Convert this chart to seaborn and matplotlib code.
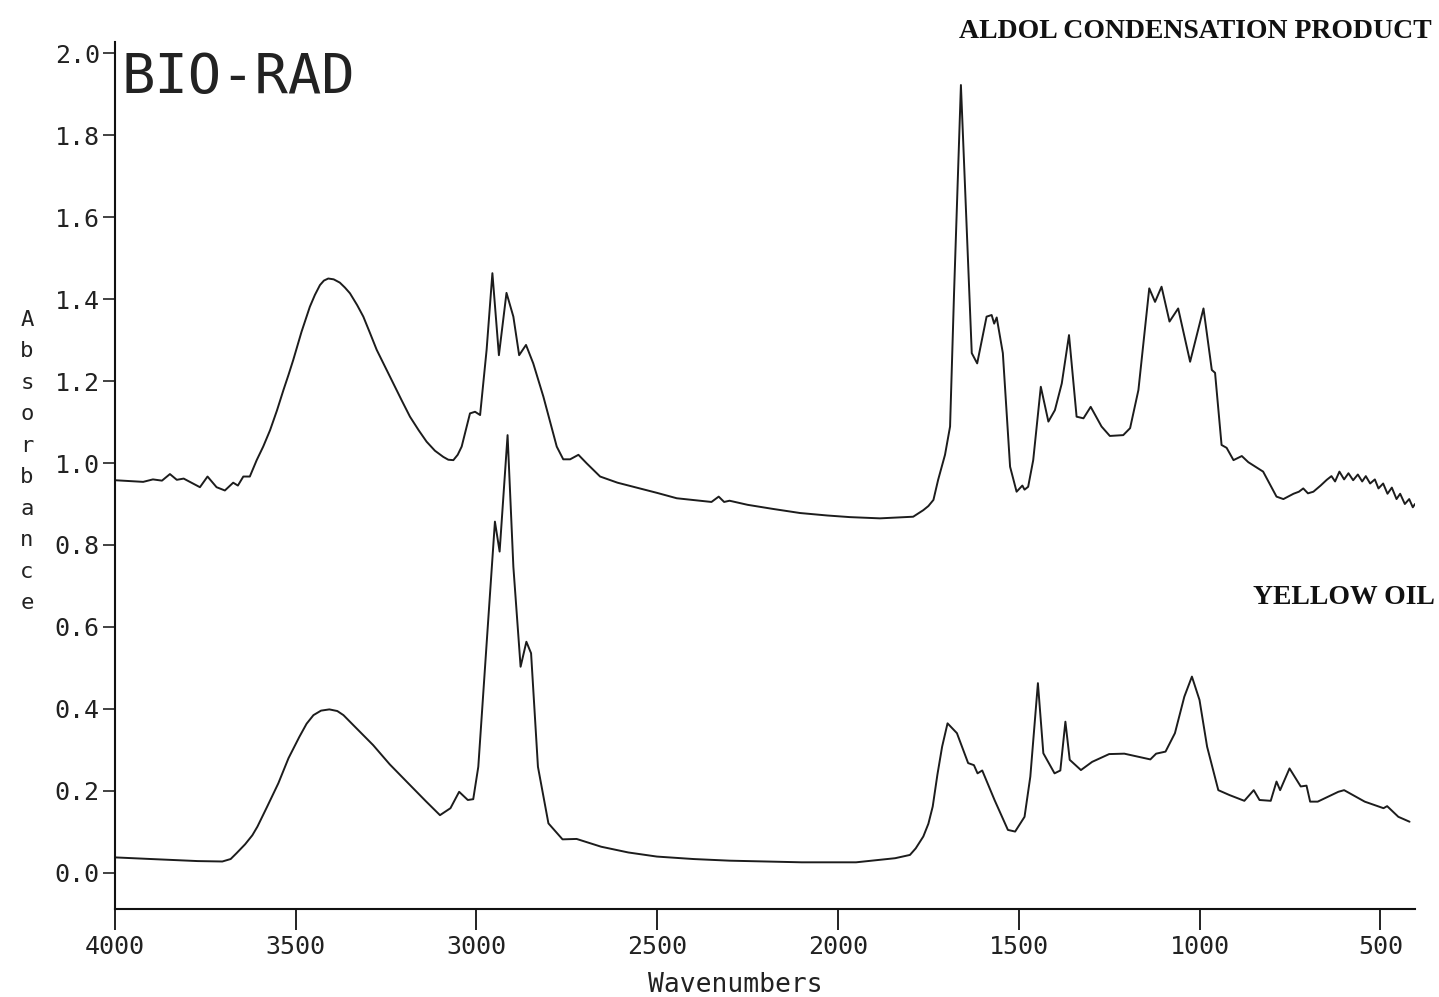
import matplotlib
matplotlib.use("Agg")
import matplotlib.pyplot as plt
import seaborn as sns
import pandas as pd

# FT-IR absorbance spectra
aldol_wavenumber = [
    4000, 3960, 3922, 3895, 3870, 3848, 3829, 3810, 3793, 3765, 3744, 3719,
    3696, 3673, 3660, 3645, 3627, 3608, 3590, 3571, 3552, 3534, 3520, 3507,
    3484, 3461, 3447, 3433, 3422, 3410, 3395, 3378, 3364, 3350, 3330, 3313,
    3295, 3276, 3253, 3230, 3207, 3184, 3160, 3138, 3115, 3092, 3078, 3064,
    3052, 3041, 3018, 3004, 2990, 2972, 2956, 2938, 2917, 2898, 2882, 2863,
    2843, 2815, 2778, 2760, 2741, 2718, 2695, 2658, 2610, 2566, 2500, 2446,
    2350, 2330, 2315, 2300, 2250, 2180, 2105, 2030, 1967, 1884, 1792, 1764,
    1750, 1736, 1723, 1704, 1690, 1679, 1660, 1644, 1630, 1615, 1589, 1575,
    1568, 1561, 1544, 1524, 1506, 1490, 1484, 1474, 1460, 1439, 1418, 1400,
    1381, 1361, 1340, 1321, 1301, 1271, 1248, 1211, 1192, 1169, 1139, 1123,
    1105, 1083, 1059, 1026, 989, 966, 957, 939, 925, 906, 883, 865,
    824, 787, 768, 740, 725, 713, 700, 685, 665, 648, 635, 625,
    613, 600, 588, 575, 562, 550, 540, 528, 515, 505, 492, 480,
    468, 455, 445, 432, 420, 410, 404,
]
aldol_absorbance = [
    0.958, 0.956, 0.954, 0.960, 0.957, 0.973, 0.959, 0.962, 0.954, 0.941, 0.967, 0.941,
    0.933, 0.952, 0.945, 0.967, 0.967, 1.007, 1.040, 1.080, 1.128, 1.178, 1.215, 1.251,
    1.320, 1.381, 1.410, 1.434, 1.445, 1.450, 1.448, 1.440, 1.428, 1.414, 1.385, 1.357,
    1.318, 1.276, 1.235, 1.194, 1.153, 1.113, 1.080, 1.052, 1.030, 1.015, 1.008, 1.007,
    1.020, 1.040, 1.121, 1.125, 1.117, 1.276, 1.463, 1.263, 1.415, 1.357, 1.263, 1.288,
    1.243, 1.162, 1.040, 1.009, 1.009, 1.020, 0.999, 0.967, 0.952, 0.942, 0.927, 0.914,
    0.905, 0.918, 0.905, 0.908, 0.898, 0.888, 0.878, 0.872, 0.868, 0.865, 0.869, 0.885,
    0.895, 0.910, 0.959, 1.020, 1.089, 1.414, 1.922, 1.576, 1.268, 1.243, 1.357, 1.361,
    1.340, 1.355, 1.268, 0.991, 0.930, 0.945, 0.935, 0.942, 1.007, 1.186, 1.101, 1.129,
    1.194, 1.312, 1.113, 1.109, 1.137, 1.089, 1.066, 1.068, 1.085, 1.178, 1.426, 1.393,
    1.430, 1.345, 1.377, 1.247, 1.377, 1.227, 1.220, 1.044, 1.037, 1.007, 1.017, 1.002,
    0.979, 0.918, 0.912, 0.925, 0.930, 0.938, 0.926, 0.930, 0.945, 0.959, 0.968, 0.955,
    0.979, 0.960, 0.975, 0.958, 0.972, 0.955, 0.968, 0.950, 0.960, 0.938, 0.950, 0.925,
    0.940, 0.912, 0.925, 0.900, 0.912, 0.892, 0.900,
]

oil_wavenumber = [
    4000, 3900, 3771, 3703, 3680, 3664, 3640, 3620, 3606, 3580, 3548, 3520,
    3490, 3470, 3451, 3430, 3407, 3385, 3368, 3340, 3286, 3240, 3189, 3140,
    3101, 3072, 3048, 3024, 3009, 2995, 2970, 2949, 2936, 2914, 2898, 2878,
    2862, 2849, 2830, 2801, 2762, 2723, 2655, 2580, 2501, 2400, 2300, 2100,
    1950, 1842, 1801, 1785, 1764, 1750, 1738, 1725, 1712, 1697, 1671, 1640,
    1624, 1614, 1601, 1567, 1530, 1510, 1484, 1468, 1447, 1432, 1401, 1385,
    1371, 1359, 1328, 1297, 1250, 1208, 1136, 1120, 1094, 1068, 1042, 1021,
    1000, 979, 948, 917, 876, 850, 834, 803, 787, 777, 751, 720,
    704, 694, 673, 616, 600, 543, 491, 481, 450, 419,
]
oil_absorbance = [
    0.038, 0.034, 0.029, 0.028, 0.034, 0.048, 0.070, 0.092, 0.113, 0.160, 0.219, 0.280,
    0.332, 0.364, 0.385, 0.396, 0.399, 0.395, 0.385, 0.360, 0.312, 0.265, 0.219, 0.175,
    0.141, 0.158, 0.198, 0.178, 0.180, 0.259, 0.585, 0.857, 0.784, 1.068, 0.747, 0.503,
    0.564, 0.536, 0.259, 0.121, 0.082, 0.083, 0.064, 0.050, 0.040, 0.034, 0.030, 0.026,
    0.026, 0.036, 0.044, 0.060, 0.089, 0.120, 0.162, 0.240, 0.308, 0.365, 0.341, 0.268,
    0.263, 0.243, 0.250, 0.178, 0.105, 0.101, 0.137, 0.235, 0.463, 0.292, 0.243, 0.250,
    0.369, 0.276, 0.251, 0.271, 0.290, 0.291, 0.277, 0.291, 0.296, 0.341, 0.430, 0.479,
    0.422, 0.308, 0.202, 0.190, 0.176, 0.202, 0.178, 0.176, 0.223, 0.202, 0.255, 0.211,
    0.213, 0.174, 0.174, 0.198, 0.202, 0.174, 0.158, 0.163, 0.137, 0.125,
]

x_ticks = [4000, 3500, 3000, 2500, 2000, 1500, 1000, 500]
y_ticks = [0.0, 0.2, 0.4, 0.6, 0.8, 1.0, 1.2, 1.4, 1.6, 1.8, 2.0]

aldol_df = pd.DataFrame({"wavenumber": aldol_wavenumber, "absorbance": aldol_absorbance})
oil_df = pd.DataFrame({"wavenumber": oil_wavenumber, "absorbance": oil_absorbance})

sns.set_style("white")
plt.rcParams['font.family'] = ['DejaVu Sans Mono']

fig = plt.figure(figsize=(14.39, 9.97), dpi=100)
ax = fig.add_axes([0.0799, 0.0883, 0.9034, 0.8696])

line_color = '#1c1c1c'
sns.lineplot(data=aldol_df, x='wavenumber', y='absorbance', ax=ax,
             color=line_color, lw=1.4, estimator=None, sort=False)
sns.lineplot(data=oil_df, x='wavenumber', y='absorbance', ax=ax,
             color=line_color, lw=1.4, estimator=None, sort=False)

ax.set_xlim(4000, 404)
ax.set_ylim(-0.0878, 2.027)
ax.set_xticks(x_ticks)
ax.set_xticklabels([str(t) for t in x_ticks])
ax.set_yticks(y_ticks)
ax.set_yticklabels([f'{t:.1f}' for t in y_ticks])
ax.set_xlabel('')
ax.set_ylabel('')

for side in ['top', 'right']:
    ax.spines[side].set_visible(False)
for side in ['left', 'bottom']:
    ax.spines[side].set_color('#111111')
    ax.spines[side].set_linewidth(1.5)

ax.tick_params(axis='y', direction='out', length=9, width=1.2, pad=2,
               labelsize=18, colors='#222222', left=True)
ax.tick_params(axis='x', direction='out', length=15, width=1.4, pad=4,
               labelsize=18, colors='#222222', bottom=True)

# plotter-style annotations
ax.text(0.005, 0.99, 'BIO-RAD', transform=ax.transAxes, fontsize=40,
        va='top', ha='left', color='#222222')
fig.text(0.0188, 0.537, '\n'.join('Absorbance'), fontsize=16, ha='center',
         va='center', linespacing=1.72, color='#222222')
fig.text(735 / 1439, 1 - 985 / 997, 'Wavenumbers', fontsize=19,
         ha='center', va='center', color='#222222')

fig.text(1432 / 1439, 1 - 31 / 997, 'ALDOL CONDENSATION PRODUCT',
         family='Liberation Serif', weight='bold', fontsize=20,
         ha='right', va='center', color='#111111')
fig.text(1435 / 1439, 1 - 597 / 997, 'YELLOW OIL',
         family='Liberation Serif', weight='bold', fontsize=20,
         ha='right', va='center', color='#111111')

fig.savefig('out.png', dpi=100)
